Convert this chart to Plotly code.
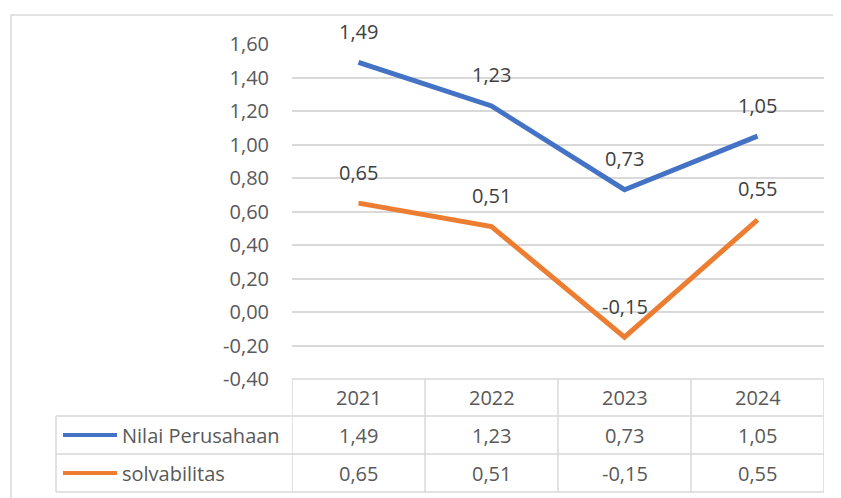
import plotly.graph_objects as go

years = ["2021", "2022", "2023", "2024"]
nilai_perusahaan = [1.49, 1.23, 0.73, 1.05]
solvabilitas = [0.65, 0.51, -0.15, 0.55]
series_names = ["Nilai Perusahaan", "solvabilitas"]
y_tickvals = [-0.4, -0.2, 0.0, 0.2, 0.4, 0.6, 0.8, 1.0, 1.2, 1.4, 1.6]
y_ticktext = ["-0,40", "-0,20", "0,00", "0,20", "0,40", "0,60", "0,80", "1,00", "1,20", "1,40", "1,60"]

colors = ["#4472C4", "#ED7D31"]
FONT = "Open Sans"
TXT = "#595959"
GRID = "#d9d9d9"
FS = 20

OFF = 8  # browser body margin
W, H = 841 - OFF, 498 - OFF
L, R, T, B = 292, 824, 44, 379  # plot area in page px


def px_x(p):
    return (p - L) / (R - L)


def px_y(p):
    return (B - p) / (B - T)


def fmt(v):
    return f"{v:.2f}".replace(".", ",")


xs = list(range(len(years)))
fig = go.Figure()
series = [nilai_perusahaan, solvabilitas]
for name, vals, c in zip(series_names, series, colors):
    fig.add_trace(go.Scatter(x=xs, y=vals, mode="lines", name=name,
                             line=dict(color=c, width=5), hoverinfo="skip"))

annotations = []
for vals in series:
    for xi, v in zip(xs, vals):
        annotations.append(dict(x=xi, y=v, xref="x", yref="y", text=fmt(v), showarrow=False,
                                yanchor="middle", yshift=31,
                                font=dict(family=FONT, size=FS, color="#404040")))

shapes = []
shapes.append(dict(type="rect", xref="paper", yref="paper",
                   x0=px_x(11), x1=px_x(850), y0=px_y(505), y1=px_y(15),
                   line=dict(color=GRID, width=1.5), fillcolor="rgba(0,0,0,0)", layer="below"))

row_lines = [379, 416, 454, 492]
tbl_left = 56
shapes.append(dict(type="line", xref="paper", yref="paper", x0=0, x1=1,
                   y0=px_y(row_lines[0]), y1=px_y(row_lines[0]), line=dict(color=GRID, width=1.5)))
for rl in row_lines[1:]:
    shapes.append(dict(type="line", xref="paper", yref="paper", x0=px_x(tbl_left), x1=1,
                       y0=px_y(rl), y1=px_y(rl), line=dict(color=GRID, width=1.5)))
for i in range(len(years) + 1):
    shapes.append(dict(type="line", xref="x", yref="paper", x0=i - 0.5, x1=i - 0.5,
                       y0=px_y(row_lines[0]), y1=px_y(row_lines[-1]), line=dict(color=GRID, width=1.5)))
shapes.append(dict(type="line", xref="paper", yref="paper", x0=px_x(tbl_left), x1=px_x(tbl_left),
                   y0=px_y(row_lines[1]), y1=px_y(row_lines[-1]), line=dict(color=GRID, width=1.5)))

for xi, yr in zip(xs, years):
    annotations.append(dict(x=xi, y=px_y((row_lines[0] + row_lines[1]) / 2), xref="x", yref="paper",
                            text=yr, showarrow=False, yanchor="middle",
                            font=dict(family=FONT, size=FS, color=TXT)))
for r, (name, vals, c) in enumerate(zip(series_names, series, colors)):
    yc = px_y((row_lines[r + 1] + row_lines[r + 2]) / 2)
    shapes.append(dict(type="line", xref="paper", yref="paper", x0=px_x(63), x1=px_x(117),
                       y0=yc, y1=yc, line=dict(color=c, width=4)))
    annotations.append(dict(x=px_x(120), y=yc, xref="paper", yref="paper", text=name,
                            showarrow=False, xanchor="left", yanchor="middle",
                            font=dict(family=FONT, size=FS, color=TXT)))
    for xi, v in zip(xs, vals):
        annotations.append(dict(x=xi, y=yc, xref="x", yref="paper", text=fmt(v),
                                showarrow=False, yanchor="middle",
                                font=dict(family=FONT, size=FS, color=TXT)))

fig.update_layout(
    width=W, height=H,
    margin=dict(l=L - OFF, r=841 - R, t=T - OFF, b=498 - B),
    paper_bgcolor="white", plot_bgcolor="white",
    showlegend=False,
    shapes=shapes, annotations=annotations,
    xaxis=dict(range=[-0.5, 3.5], showticklabels=False, showgrid=False, zeroline=False,
               showline=False, ticks="", fixedrange=True),
    yaxis=dict(range=[-0.4, 1.6], tickvals=y_tickvals, ticktext=y_ticktext,
               showgrid=True, gridcolor=GRID, gridwidth=1.5, zeroline=False, showline=False,
               ticks="", ticklabelstandoff=22,
               tickfont=dict(family=FONT, size=FS, color=TXT)),
)

fig.write_html("out.html")
